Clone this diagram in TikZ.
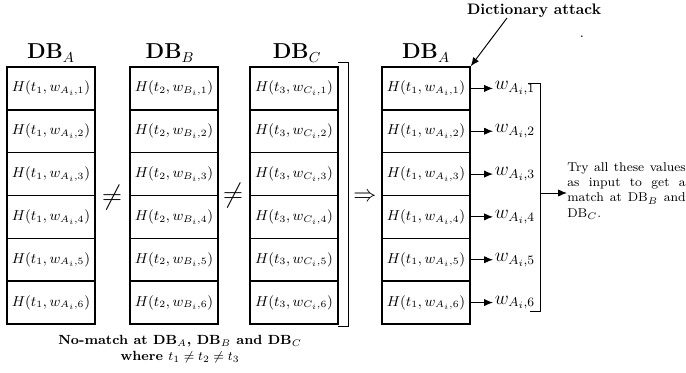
\documentclass[tikz,border=0pt]{standalone}
\usetikzlibrary{arrows.meta}
\begin{document}
\begin{tikzpicture}[x=0.625pt,y=-0.625pt,
  cell/.style={draw=black,line width=0.9pt,minimum width=55pt,minimum height=26.77pt,inner sep=0pt,font=\fontsize{9.2}{11}\selectfont},
  hdr/.style={font=\fontsize{13.5}{16}\selectfont\bfseries,inner sep=0pt},
  wlab/.style={anchor=west,font=\large,inner sep=1pt},
  arr/.style={-{Latex[length=5.5pt,width=4.5pt]},line width=0.6pt},
  brk/.style={line width=0.6pt}]
\useasboundingbox (0,0) rectangle (686,373);
% headers
\node[hdr] (hA) at (51,53) {DB$_A$};
\node[hdr] (hB) at (170,53) {DB$_B$};
\node[hdr] (hC) at (297,53) {DB$_C$};
\node[hdr] (hA2) at (426,53) {DB$_A$};
% cells
\foreach \k in {1,...,6}{
  \pgfmathsetmacro{\yy}{67+42.83*(\k-0.5)}
  \node[cell] (A\k) at (51,\yy) {$H(t_1,w_{A_i,\k})$};
  \node[cell] (B\k) at (174,\yy) {$H(t_2,w_{B_i,\k})$};
  \node[cell] (C\k) at (294,\yy) {$H(t_3,w_{C_i,\k})$};
  \node[cell] (D\k) at (426,\yy) {$H(t_1,w_{A_i,\k})$};
  \node[wlab] (W\k) at (493,\yy) {$w_{A_i,\k}$};
  \draw[arr] (D\k.east) -- (W\k.west);
}
% relations
\node[font=\LARGE,inner sep=0pt] (ne1) at (112,198) {$\neq$};
\node[font=\LARGE,inner sep=0pt] (ne2) at (233,196) {$\neq$};
\node[font=\Large,inner sep=0pt] (imp) at (365,197) {$\Rightarrow$};
% bracket after C
\draw[brk] (338,62) -- (348,62) -- (348,326) -- (338,326);
% bracket after w
\draw[brk] (528,83) -- (540,83) -- (540,311) -- (530,311);
\coordinate (bm) at (540,193);
\node[anchor=west,text width=74pt,align=left,font=\footnotesize,inner sep=0pt] (try) at (567,191)
 {\leavevmode\hbox to 74pt{Try\hfill all\hfill these\hfill values}\\
  \leavevmode\hbox to 74pt{as\hfill input\hfill to\hfill get\hfill a}\\
  \leavevmode\hbox to 74pt{match\hfill at\hfill DB$_B$\hfill and}\\
  DB$_C$.};
\draw[arr] (bm) -- (try.west |- bm);
% dictionary attack
\node[font=\fontsize{9.5}{11}\selectfont\bfseries,inner sep=1pt] (dict) at (534,11) {Dictionary attack};
\coordinate (ds) at (507,18);
\draw[arr] (ds) -- (D1.north east);
\node[font=\small,inner sep=0pt] (dot) at (582,37) {.};
% bottom caption
\node[font=\fontsize{8.3}{10}\selectfont\bfseries,align=center,inner sep=0pt] (cap) at (180,349)
 {No-match at DB$_A$, DB$_B$ and DB$_C$\\ where $t_1\neq t_2\neq t_3$};
\end{tikzpicture}
\end{document}
